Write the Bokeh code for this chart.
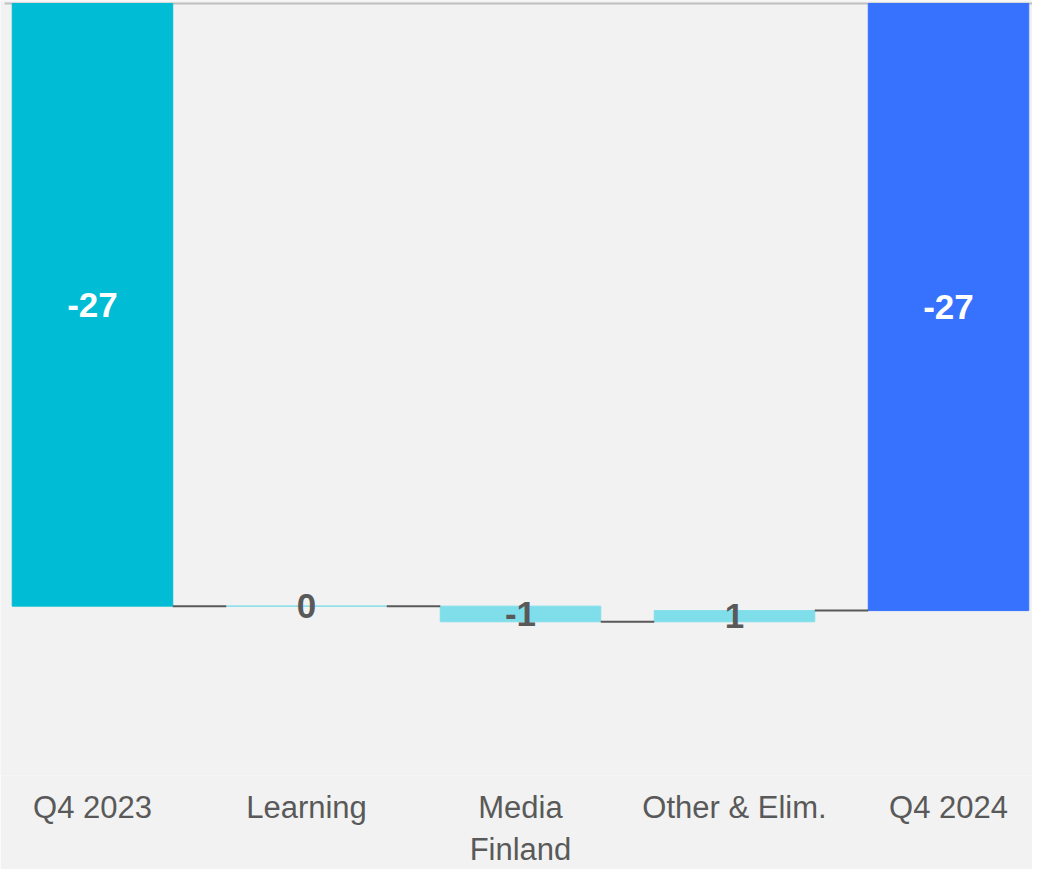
from bokeh.plotting import figure
from bokeh.models import FixedTicker, ColumnDataSource
from bokeh.core.properties import value
from bokeh.embed import file_html
from bokeh.resources import INLINE

# ---- data ----
categories = ["Q4 2023", "Learning", "Media\nFinland", "Other & Elim.", "Q4 2024"]
values = [-27.0, 0.0, -0.7, 0.5, -27.2]
is_total = [True, False, False, False, True]
value_labels = ["-27", "0", "-1", "1", "-27"]

# ---- styles ----
BG = "#f2f2f2"
C_START = "#00bcd4"
C_END = "#3772ff"
C_DELTA = "#80deea"
C_TEXT = "#595959"
FONT = "Liberation Sans"

# ---- waterfall geometry from data ----
xs = list(range(len(categories)))
tops, bottoms, colors, label_colors, mids, cums = [], [], [], [], [], []
cum = 0.0
for i, (v, t) in enumerate(zip(values, is_total)):
    if t:
        start, end = 0.0, v
        colors.append(C_START if i == 0 else C_END)
        label_colors.append("white")
    else:
        start, end = cum, cum + v
        colors.append(C_DELTA)
        label_colors.append(C_TEXT)
    cum = end
    cums.append(cum)
    tops.append(max(start, end))
    bottoms.append(min(start, end))
    mids.append((start + end) / 2)

BW = 0.75
px_per_unit = 22.32
frame_h = 775
y_end = 3.0 / px_per_unit
y_start = y_end - frame_h / px_per_unit

p = figure(
    frame_width=1032, frame_height=frame_h,
    x_range=(-0.4299, 4.3925), y_range=(y_start, y_end),
    output_backend="svg", toolbar_location=None,
    background_fill_color=BG, border_fill_color=BG,
    min_border_left=0, min_border_right=0, min_border_top=0, min_border_bottom=0,
)
p.outline_line_color = None
p.grid.visible = False
p.yaxis.visible = False

# zero line
p.line(x=[-0.411, 4.5], y=[0, 0], line_color="#bfbfbf", line_width=2)

src = ColumnDataSource(dict(x=xs, top=tops, bottom=bottoms, color=colors,
                            mid=mids, lab=value_labels, lc=label_colors))
p.vbar(x="x", top="top", bottom="bottom", width=BW, fill_color="color",
       line_color="color", line_width=1, source=src)

# connectors
cx0 = [i + BW / 2 for i in xs[:-1]]
cx1 = [i + 1 - BW / 2 for i in xs[:-1]]
cy = cums[:-1]
p.segment(x0=cx0, y0=cy, x1=cx1, y1=cy, line_color=C_TEXT, line_width=2)

p.text(x="x", y="mid", text="lab", text_color="lc", source=src,
       text_font=value(FONT), text_font_size="35px", text_font_style="bold",
       text_align="center", text_baseline="middle")

ax = p.xaxis[0]
ax.ticker = FixedTicker(ticks=xs)
ax.major_label_overrides = {i: c for i, c in zip(xs, categories)}
ax.axis_line_color = None
ax.major_tick_line_color = None
ax.minor_tick_line_color = None
ax.major_label_text_font = FONT
ax.major_label_text_font_size = "31px"
ax.major_label_text_color = C_TEXT
ax.major_label_standoff = 8

open("out.html", "w").write(file_html(p, INLINE))
